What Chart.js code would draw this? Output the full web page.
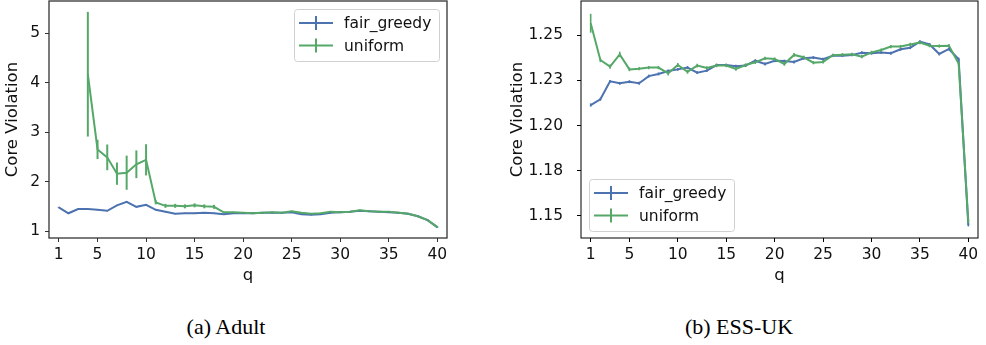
<!DOCTYPE html>
<html><head><meta charset="utf-8">
<script src="https://cdn.jsdelivr.net/npm/chart.js@4.4.0/dist/chart.umd.min.js"></script>
<style>
html,body{margin:0;padding:0;background:#fff;}
#wrap{position:relative;width:986px;height:345px;overflow:hidden;background:#fff;}
.cv{position:absolute;top:0;}
.cap{position:absolute;top:315px;line-height:24px;font-family:"Liberation Serif","DejaVu Serif",serif;font-size:22px;color:#000;white-space:nowrap;transform:translateX(-50%);}
</style></head><body>
<div id="wrap">
<div class="cv" style="left:0;width:490px;height:290px"><canvas id="c1" width="490" height="290"></canvas></div>
<div class="cv" style="left:490px;width:496px;height:290px"><canvas id="c2" width="496" height="290"></canvas></div>
<div class="cap" style="left:226px">(a) Adult</div>
<div class="cap" style="left:739px">(b) ESS-UK</div>
</div>
<script>
// ---------- data ----------
const qValues = [1,2,3,4,5,6,7,8,9,10,11,12,13,14,15,16,17,18,19,20,21,22,23,24,25,26,27,28,29,30,31,32,33,34,35,36,37,38,39,40];
const seriesNames = ['fair_greedy','uniform'];
const seriesColors = ['#4C72B0','#55A868'];
const xTicks = [1,5,10,15,20,25,30,35,40];

// (a) Adult
const adultFairGreedy = [1.48,1.36,1.445,1.445,1.43,1.41,1.52,1.59,1.49,1.53,1.43,1.39,1.35,1.36,1.36,1.37,1.36,1.34,1.36,1.36,1.36,1.37,1.37,1.37,1.38,1.34,1.33,1.34,1.37,1.38,1.39,1.41,1.40,1.39,1.38,1.37,1.35,1.30,1.22,1.08];
const adultFairGreedyErr = [0.01,0.01,0.01,0.01,0.01,0.01,0.01,0.01,0.01,0.01,0.01,0.01,0.01,0.01,0.01,0.01,0.01,0.01,0.01,0.01,0.01,0.01,0.01,0.01,0.01,0.01,0.01,0.01,0.01,0.01,0.01,0.01,0.01,0.01,0.01,0.01,0.01,0.01,0.01,0.01];
const adultUniform = [null,null,null,4.17,2.65,2.49,2.16,2.18,2.35,2.44,1.58,1.51,1.51,1.50,1.52,1.50,1.49,1.38,1.38,1.37,1.36,1.37,1.38,1.37,1.40,1.37,1.35,1.36,1.39,1.38,1.39,1.42,1.40,1.39,1.39,1.37,1.35,1.30,1.22,1.08];
const adultUniformErr = [0,0,0,1.26,0.195,0.26,0.225,0.345,0.28,0.315,0.04,0.04,0.04,0.04,0.04,0.04,0.04,0.01,0.01,0.01,0.01,0.01,0.01,0.01,0.01,0.01,0.01,0.01,0.01,0.01,0.01,0.01,0.01,0.01,0.01,0.01,0.01,0.01,0.01,0.01];
const adultYTicks = [1,2,3,4,5];
const adultYTickLabels = ['1','2','3','4','5'];

// (b) ESS-UK
const essFairGreedy = [1.2113,1.2145,1.2244,1.2233,1.2242,1.2233,1.2273,1.2285,1.2301,1.2310,1.2320,1.2292,1.2303,1.2334,1.2334,1.2327,1.2331,1.2358,1.2340,1.2358,1.2356,1.2351,1.2371,1.2375,1.2366,1.2386,1.2386,1.2390,1.2402,1.2399,1.2404,1.2399,1.2421,1.2430,1.2463,1.2448,1.2395,1.2423,1.2366,1.1450];
const essFairGreedyErr = [0.0009,0.0008,0.0008,0.0008,0.0008,0.0008,0.0008,0.0008,0.0008,0.0008,0.0008,0.0008,0.0008,0.0008,0.0008,0.0008,0.0008,0.0008,0.0008,0.0008,0.0008,0.0008,0.0008,0.0008,0.0008,0.0008,0.0008,0.0008,0.0008,0.0008,0.0008,0.0008,0.0008,0.0008,0.0008,0.0008,0.0008,0.0008,0.0009,0.0008];
const essUniform = [1.2565,1.2362,1.2325,1.2393,1.2310,1.2314,1.2320,1.2320,1.2288,1.2334,1.2297,1.2331,1.2318,1.2331,1.2331,1.2312,1.2334,1.2349,1.2371,1.2367,1.2340,1.2390,1.2377,1.2347,1.2351,1.2388,1.2391,1.2393,1.2380,1.2404,1.2417,1.2436,1.2436,1.2448,1.2458,1.2441,1.2439,1.2441,1.2343,1.1469];
const essUniformErr = [0.0052,0.0012,0.0012,0.0015,0.0010,0.0009,0.0009,0.0009,0.0012,0.0011,0.0011,0.0010,0.0009,0.0009,0.0009,0.0010,0.0009,0.0009,0.0009,0.0009,0.0010,0.0010,0.0009,0.0009,0.0009,0.0009,0.0009,0.0009,0.0009,0.0009,0.0009,0.0009,0.0009,0.0009,0.0009,0.0009,0.0009,0.0009,0.0009,0.0009];
const essYTicks = [1.15,1.175,1.2,1.225,1.25];
const essYTickLabels = ['1.15','1.18','1.20','1.23','1.25'];

// ---------- helpers ----------
const FONT = '"DejaVu Sans", Verdana, sans-serif';
function pts(vals){ return qValues.map((q,i)=>({x:q, y:vals[i]})); }

const errorBars = {
  id:'errorBars',
  afterDatasetsDraw(chart, args, opts){
    const ctx = chart.ctx, xs = chart.scales.x, ys = chart.scales.y;
    ctx.save();
    chart.data.datasets.forEach(ds=>{
      if(!ds.err) return;
      ctx.strokeStyle = ds.borderColor;
      ctx.lineWidth = opts.width || 2;
      ds.data.forEach((p,i)=>{
        if(p.y==null) return;
        const e = ds.err[i];
        if(!e) return;
        const x = xs.getPixelForValue(p.x);
        const y1 = ys.getPixelForValue(p.y+e), y2 = ys.getPixelForValue(p.y-e);
        ctx.beginPath(); ctx.moveTo(x,y1); ctx.lineTo(x,y2); ctx.stroke();
      });
    });
    ctx.restore();
  }
};
const frame = {
  id:'frame',
  afterDraw(chart, args, opts){
    const a = chart.chartArea, ctx = chart.ctx;
    ctx.save();
    ctx.strokeStyle = opts.color || '#000';
    ctx.lineWidth = opts.width || 1;
    ctx.strokeRect(a.left, a.top, a.right-a.left, a.bottom-a.top);
    ctx.restore();
  }
};
const boxLegend = {
  id:'boxLegend',
  afterDraw(chart, args, opts){
    const a = chart.chartArea, ctx = chart.ctx;
    const w = 145, h = 52;
    const bx = opts.corner==='tr' ? a.right - 8 - w : a.left + 8;
    const by = opts.corner==='tr' ? a.top + 8 : a.bottom - 7 - h;
    ctx.save();
    ctx.fillStyle = 'rgba(255,255,255,0.85)';
    ctx.strokeStyle = '#d0d0d0';
    ctx.lineWidth = 1;
    ctx.beginPath();
    if (ctx.roundRect) ctx.roundRect(bx+0.5, by+0.5, w, h, 3); else ctx.rect(bx+0.5,by+0.5,w,h);
    ctx.fill(); ctx.stroke();
    ctx.font = '15.5px ' + FONT;
    ctx.textBaseline = 'middle';
    seriesNames.forEach((name,i)=>{
      const cy = by + 14 + i*22.5;
      ctx.strokeStyle = seriesColors[i];
      ctx.lineWidth = 2;
      ctx.beginPath(); ctx.moveTo(bx+5, cy); ctx.lineTo(bx+39, cy); ctx.stroke();
      ctx.beginPath(); ctx.moveTo(bx+22, cy-7); ctx.lineTo(bx+22, cy+7); ctx.stroke();
      ctx.fillStyle = '#111';
      ctx.fillText(name, bx+50, cy+1);
    });
    ctx.restore();
  }
};

function makeChart(id, fair, fairErr, unif, unifErr, yMin, yMax, yTicks, yTickLabels, cfg){
  return new Chart(document.getElementById(id), {
    type:'line',
    data:{ datasets:[
      {label:seriesNames[0], data:pts(fair), err:fairErr, borderColor:seriesColors[0], backgroundColor:seriesColors[0], borderWidth:2, pointRadius:0, tension:0, order:2, spanGaps:false},
      {label:seriesNames[1], data:pts(unif), err:unifErr, borderColor:seriesColors[1], backgroundColor:seriesColors[1], borderWidth:2, pointRadius:0, tension:0, order:1, spanGaps:false}
    ]},
    options:{
      responsive:false, animation:false, maintainAspectRatio:false,
      layout:{ padding:{left:cfg.padLeft, right:cfg.padRight, top:1, bottom:0} },
      plugins:{ legend:{display:false}, tooltip:{enabled:false},
        errorBars:{width:cfg.errWidth}, frame:{color:cfg.frameColor, width:cfg.frameWidth},
        boxLegend:{corner:cfg.legendCorner} },
      scales:{
        x:{ type:'linear', min:0, max:41,
          afterBuildTicks:s=>{ s.ticks = xTicks.map(v=>({value:v})); },
          afterFit:s=>{ s.height = 52; s.paddingLeft = 0; s.paddingRight = 0; },
          ticks:{ autoSkip:false, maxRotation:0, padding:4, color:'#111', font:{family:FONT, size:15.5}, callback:v=>String(v) },
          grid:{ display:true, drawOnChartArea:false, drawTicks:true, tickLength:4, color:cfg.frameColor, lineWidth:1 },
          border:{ display:false },
          title:{ display:true, text:'q', color:'#111', font:{family:FONT, size:16.5}, padding:{top:0, bottom:4} }
        },
        y:{ type:'linear', min:yMin, max:yMax,
          afterBuildTicks:s=>{ s.ticks = yTicks.map(v=>({value:v})); },
          afterFit:s=>{ s.width = cfg.yWidth; s.paddingTop = 0; s.paddingBottom = 0; },
          ticks:{ autoSkip:false, padding:cfg.yPad, color:'#111', font:{family:FONT, size:15.5}, callback:(v,i)=>yTickLabels[i] },
          grid:{ display:true, drawOnChartArea:false, drawTicks:true, tickLength:4, color:cfg.frameColor, lineWidth:1 },
          border:{ display:false },
          title:{ display:true, text:'Core Violation', color:'#111', font:{family:FONT, size:16.5}, padding:{top:3, bottom:3} }
        }
      }
    },
    plugins:[errorBars, frame, boxLegend]
  });
}

makeChart('c1', adultFairGreedy, adultFairGreedyErr, adultUniform, adultUniformErr, 0.86, 5.65, adultYTicks, adultYTickLabels,
  {padLeft:0, padRight:43, yWidth:49, yPad:5, errWidth:2, frameColor:'#333', frameWidth:1.3, legendCorner:'tr'});
makeChart('c2', essFairGreedy, essFairGreedyErr, essUniform, essUniformErr, 1.1378, 1.2688, essYTicks, essYTickLabels,
  {padLeft:15, padRight:8, yWidth:76, yPad:14, errWidth:1.6, frameColor:'#000', frameWidth:1, legendCorner:'bl'});
</script>
</body></html>
